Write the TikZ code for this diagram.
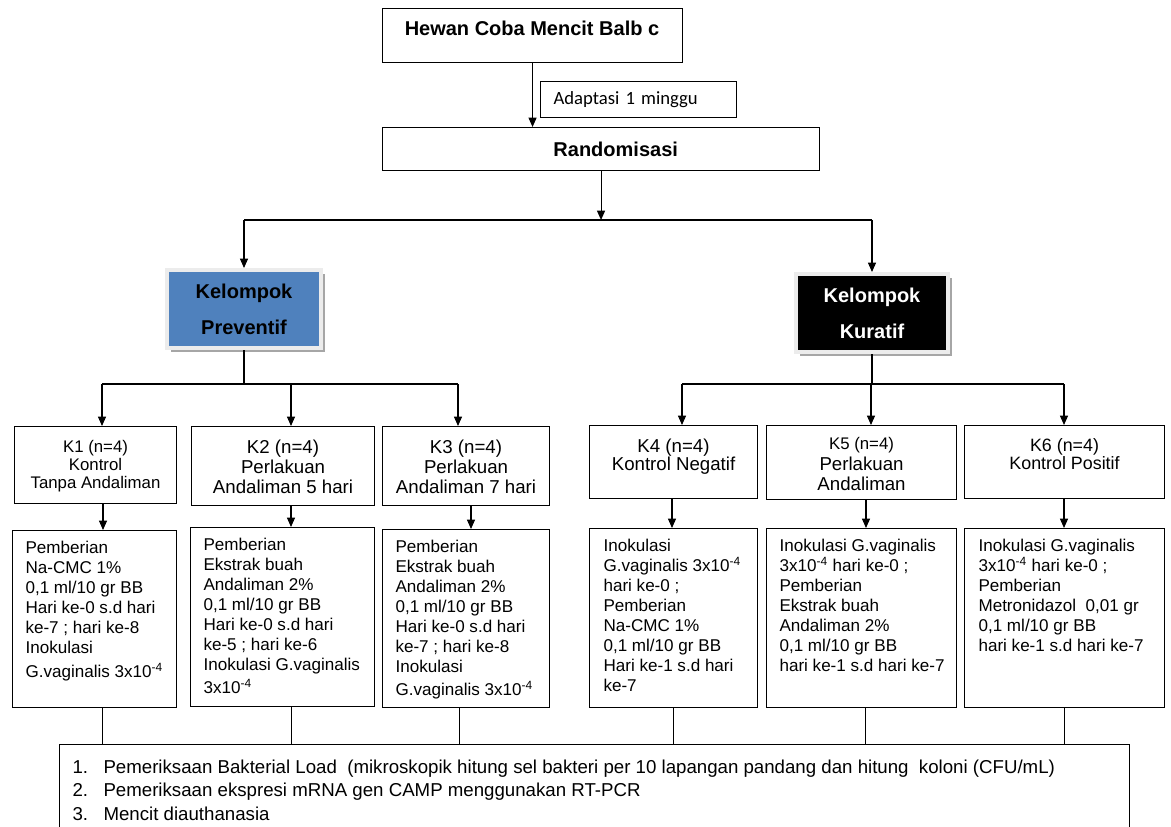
\documentclass[tikz,border=0pt]{standalone}
\usepackage{fontspec}
\setmainfont{Liberation Sans}
\newfontfamily\calibri{Carlito}
\usetikzlibrary{arrows.meta,positioning,shadows}
\definecolor{biru}{HTML}{4F81BD}
\tikzset{
  kotak/.style 2 args={draw, line width=0.8pt, minimum width=#1*0.75pt,
    minimum height=#2*0.75pt, inner sep=0pt, anchor=north west},
  kelompok/.style 2 args={draw=gray!15, line width=3pt, minimum width=#1*0.75pt,
    minimum height=#2*0.75pt, inner sep=0pt, anchor=north west, align=center,
    font=\fontsize{15}{27}\selectfont\bfseries,
    drop shadow={shadow xshift=3pt, shadow yshift=-3pt, fill=gray!70, opacity=1}},
  judul/.style={inner sep=0pt, anchor=north, align=center},
  isi/.style={inner sep=0pt, anchor=north west, align=left,
    font=\fontsize{12.8}{15}\selectfont},
  hasil/.style={inner sep=0pt, anchor=base west, font=\fontsize{14}{16}\selectfont}
}
\begin{document}
\begin{tikzpicture}[x=0.75pt, y=-0.75pt, line width=0.8pt,
  >={Triangle[length=7pt,width=6pt]}]
\useasboundingbox (0,0) rectangle (1171,827);
\clip (0,0) rectangle (1171,827);

% alur atas
\node[kotak={300}{54}] (hewan) at (382,8) {};
\node[font=\fontsize{15}{18}\selectfont\bfseries] (thewan) at (532,28) {Hewan Coba Mencit Balb c};
\node[kotak={196}{36}, text width=127.5pt, align=left,
  font=\calibri\fontsize{14}{16}\selectfont] (adaptasi) at (540,81) {Adaptasi 1 minggu};
\node[kotak={437}{43}, font=\fontsize{15}{18}\selectfont\bfseries] (acak) at (382,127)
  {\hspace*{22pt}Randomisasi};

\node[kelompok={154}{78}, fill=biru] (prev) at (165,268) {Kelompok\\Preventif};
\node[kelompok={152}{78}, fill=black, text=white] (kur) at (794,272) {Kelompok\\Kuratif};

\draw[->] (hewan.south) -- (hewan.south |- acak.north);
\coordinate (cabang) at (601,220);
\draw[->] (acak.south) -- (acak.south |- cabang);
\draw (prev.north |- cabang) -- (kur.north |- cabang);
\draw[->] (prev.north |- cabang) -- (prev.north);
\draw[->] (kur.north |- cabang) -- (kur.north);

% kelompok K1 - K6
\node[kotak={162}{77}] (k1) at (14,426) {};
\node[kotak={183}{79}] (k2) at (191,426) {};
\node[kotak={167}{79}] (k3) at (382,426) {};
\node[kotak={168}{73}] (k4) at (589,425) {};
\node[kotak={190}{74}] (k5) at (766,425) {};
\node[kotak={200}{73}] (k6) at (964,425) {};

\node[judul, below=10.5pt of k1.north, font=\fontsize{12.6}{13.5}\selectfont] (tk1)
  {K1 (n=4)\\Kontrol\\Tanpa Andaliman};
\node[judul, below=9.75pt of k2.north, font=\fontsize{14}{15}\selectfont] (tk2)
  {K2 (n=4)\\Perlakuan\\Andaliman 5 hari};
\node[judul, below=9.75pt of k3.north, font=\fontsize{14}{15}\selectfont] (tk3)
  {K3 (n=4)\\Perlakuan\\Andaliman 7 hari};
\node[judul, below=9.75pt of k4.north, font=\fontsize{14}{13.7}\selectfont] (tk4)
  {K4 (n=4)\\Kontrol Negatif};
\node[judul, below=9pt of k5.north, font=\fontsize{14}{15.4}\selectfont] (tk5)
  {{\fontsize{12.6}{15.4}\selectfont K5 (n=4)}\\Perlakuan\\Andaliman};
\node[judul, below=9.75pt of k6.north, font=\fontsize{13.4}{13.7}\selectfont] (tk6)
  {K6 (n=4)\\Kontrol Positif};

\coordinate (c1) at (102,384);
\coordinate (c2) at (291,384);
\coordinate (c3) at (458,384);
\coordinate (c4) at (682,384);
\coordinate (c5) at (871,384);
\coordinate (c6) at (1064,384);
\draw (prev.south) -- (prev.south |- c1);
\draw (c1) -- (c3);
\draw (kur.south) -- (kur.south |- c4);
\draw (c4) -- (c6);
\foreach \i in {1,...,6}
  \draw[->] (c\i) -- (c\i |- k\i.north);

% perlakuan
\node[kotak={164}{177}] (d1) at (12,530) {};
\node[kotak={184}{179}] (d2) at (190,527) {};
\node[kotak={167}{178}] (d3) at (382,529) {};
\node[kotak={168}{179}] (d4) at (589,528) {};
\node[kotak={190}{179}] (d5) at (766,528) {};
\node[kotak={200}{179}] (d6) at (964,528) {};

\node[isi, below right=8pt and 9.75pt of d1.north west] (td1)
  {Pemberian\\Na-CMC 1\%\\0,1 ml/10 gr BB\\Hari ke-0 s.d hari\\ke-7 ; hari ke-8\\Inokulasi\\[3pt]G.vaginalis 3x10\textsuperscript{-4}};
\node[isi, below right=8pt and 9.75pt of d2.north west] (td2)
  {Pemberian\\Ekstrak buah\\Andaliman 2\%\\0,1 ml/10 gr BB\\Hari ke-0 s.d hari\\ke-5 ; hari ke-6\\Inokulasi G.vaginalis\\[2pt]3x10\textsuperscript{-4}};
\node[isi, below right=8pt and 9.75pt of d3.north west] (td3)
  {Pemberian\\Ekstrak buah\\Andaliman 2\%\\0,1 ml/10 gr BB\\Hari ke-0 s.d hari\\ke-7 ; hari ke-8\\Inokulasi\\[2pt]G.vaginalis 3x10\textsuperscript{-4}};
\node[isi, below right=8pt and 10.5pt of d4.north west] (td4)
  {Inokulasi\\G.vaginalis 3x10\textsuperscript{-4}\\hari ke-0 ;\\Pemberian\\Na-CMC 1\%\\0,1 ml/10 gr BB\\Hari ke-1 s.d hari\\ke-7};
\node[isi, below right=8pt and 9.75pt of d5.north west] (td5)
  {Inokulasi G.vaginalis\\3x10\textsuperscript{-4} hari ke-0 ;\\Pemberian\\Ekstrak buah\\Andaliman 2\%\\0,1 ml/10 gr BB\\hari ke-1 s.d hari ke-7};
\node[isi, below right=8pt and 10.5pt of d6.north west] (td6)
  {Inokulasi G.vaginalis\\3x10\textsuperscript{-4} hari ke-0 ;\\Pemberian\\Metronidazol\ \ 0,01 gr\\0,1 ml/10 gr BB\\hari ke-1 s.d hari ke-7};

% pemeriksaan
\node[kotak={1070}{120}] (akhir) at (59,744) {};
\node[hasil] (h1) at (72,773) {\makebox[23.25pt][l]{1.}Pemeriksaan Bakterial Load\ \ (mikroskopik hitung sel bakteri per 10 lapangan pandang dan hitung\ \ koloni (CFU/mL)};
\node[hasil] (h2) at (72,796) {\makebox[23.25pt][l]{2.}Pemeriksaan ekspresi mRNA gen CAMP menggunakan RT-PCR};
\node[hasil] (h3) at (72,820) {\makebox[23.25pt][l]{3.}Mencit diauthanasia};

\foreach \i/\xa/\xb in {1/103/102,2/291/291,3/471/459,4/672/673,5/866/865,6/1064/1064}
{
  \coordinate (a\i) at (\xa,0);
  \coordinate (b\i) at (\xb,0);
  \draw[->] (a\i |- k\i.south) -- (a\i |- d\i.north);
  \draw[line width=0.5pt] (b\i |- d\i.south) -- (b\i |- akhir.north);
}

\end{tikzpicture}
\end{document}
